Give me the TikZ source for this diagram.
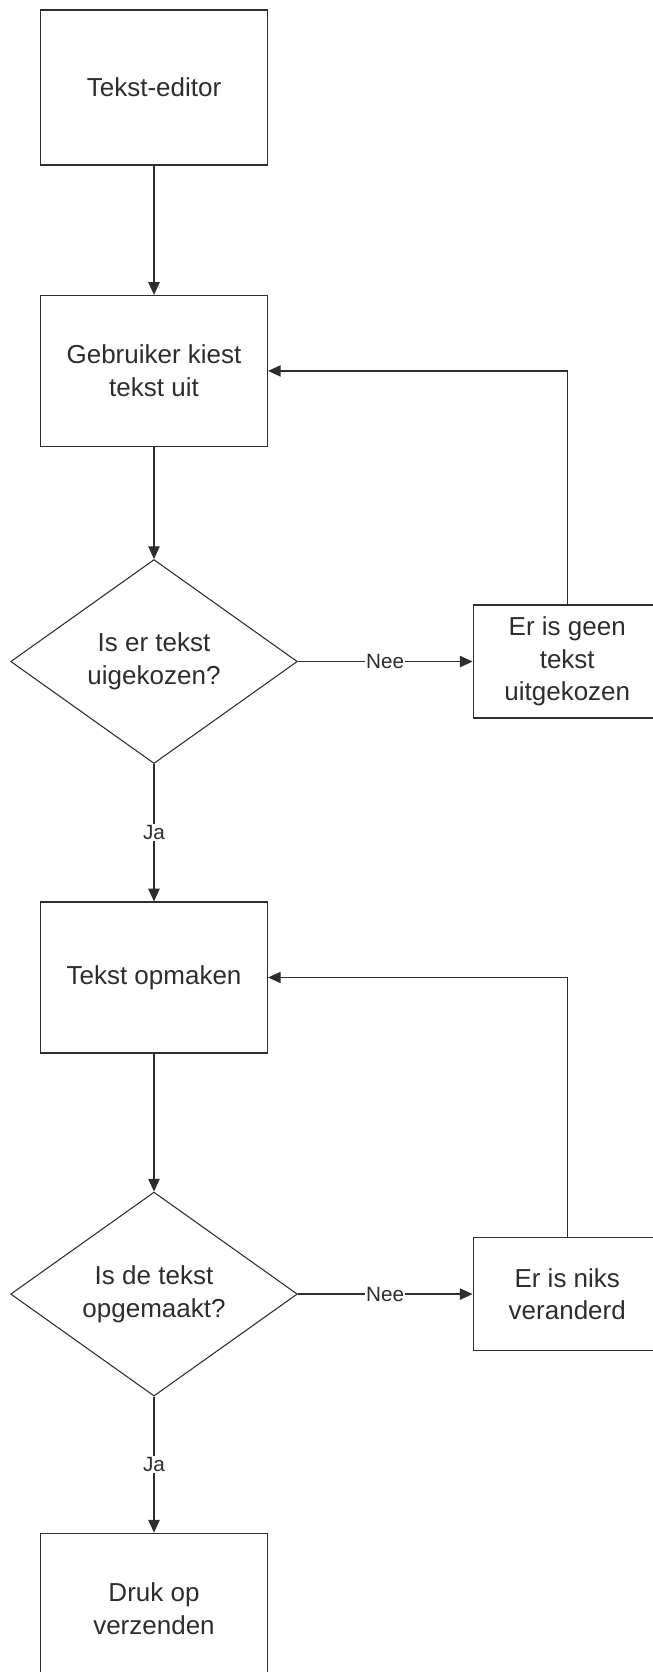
\documentclass[tikz,border=0pt]{standalone}
\usepackage{fontspec}
\setmainfont{Liberation Sans}
\usetikzlibrary{shapes.geometric}
\usetikzlibrary{arrows.meta}
\usetikzlibrary{positioning}
\definecolor{lijn}{RGB}{45,45,45}

\begin{document}
\begin{tikzpicture}[node distance=97pt,>={Triangle[length=9.5pt,width=8.5pt]},every node/.append style={align=center,text=lijn,font=\fontsize{19.5}{24.5}\selectfont},
        blok/.style={draw=lijn, line width=1.1pt, rectangle, minimum width=170pt, minimum height=113pt, inner sep=0pt},
        keuze/.style={draw=lijn, line width=0.8pt, diamond, aspect=1.4, minimum width=215pt, minimum height=153pt, inner sep=0pt},
        zijblok/.style={draw=lijn, line width=1.1pt, rectangle, minimum width=141pt, minimum height=84.75pt, inner sep=0pt},
        lbl/.style={fill=white, inner sep=1pt, font=\fontsize{15.5}{18}\selectfont},
        pijl/.style={->, draw=lijn, line width=0.9pt}]
        \useasboundingbox (-115.5pt,-1188.4pt) rectangle (374.25pt,65.6pt);

        \node [blok, minimum height=116pt] (editor) {Tekst-editor};
        \node [blok, below=of editor] (kiest) {Gebruiker kiest\\tekst uit};
        \node [keuze, below=84pt of kiest] (gekozen) {Is er tekst\\uigekozen?};
        \node [zijblok, right=131pt of gekozen] (geen) {Er is geen\\tekst\\uitgekozen};
        \node [blok, below=103pt of gekozen] (opmaken) {Tekst opmaken};
        \node [keuze, below=103.5pt of opmaken] (opgemaakt) {Is de tekst\\opgemaakt?};
        \node [zijblok, right=131pt of opgemaakt] (niks) {Er is niks\\veranderd};
        \node [blok, below=102pt of opgemaakt] (druk) {Druk op\\verzenden};

        \draw[pijl] (editor) -- (kiest);
        \draw[pijl] (kiest) -- (gekozen);
        \draw[pijl] (gekozen) -- node[lbl] {Nee} (geen);
        \draw[pijl] (gekozen) -- node[lbl] {Ja} (opmaken);
        \draw[pijl] (geen.north) |- (kiest.east);
        \draw[pijl] (opmaken) -- (opgemaakt);
        \draw[pijl] (opgemaakt) -- node[lbl] {Nee} (niks);
        \draw[pijl] (opgemaakt) -- node[lbl] {Ja} (druk);
        \draw[pijl] (niks.north) |- (opmaken.east);
    \end{tikzpicture}
\end{document}
